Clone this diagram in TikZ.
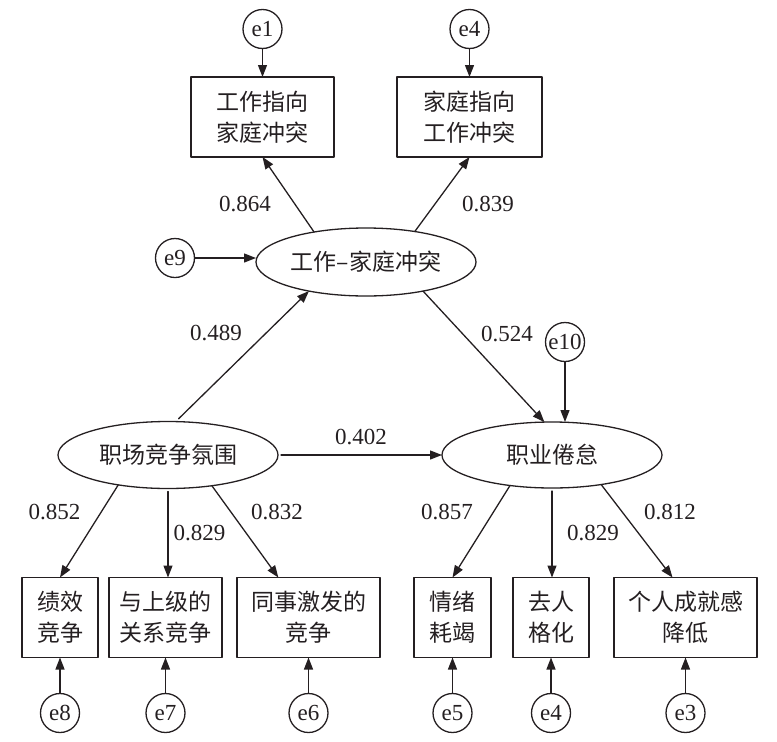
\documentclass[tikz,border=0pt]{standalone}
\usepackage{fontspec}
\setmainfont{Liberation Serif}
\newfontfamily\cjk{Noto Sans CJK SC}
\usetikzlibrary{shapes.geometric}
\usetikzlibrary{arrows.meta}
\definecolor{ink}{rgb}{0.14,0.12,0.13}
\tikzset{
  lat/.style={draw=ink,ellipse,minimum width=220pt,minimum height=68pt,inner sep=0pt,outer sep=0pt,font=\cjk\fontsize{23}{31}\selectfont},
  obs/.style={draw=ink,rectangle,align=center,minimum height=80pt,inner sep=0pt,outer sep=0pt,font=\cjk\fontsize{23}{31}\selectfont},
  err/.style={draw=ink,circle,minimum size=39pt,inner sep=0pt,outer sep=0pt,font=\fontsize{23}{27}\selectfont},
  coef/.style={text=ink,font=\fontsize{23}{27}\selectfont}
}
\begin{document}
\begin{tikzpicture}[line cap=round,line join=round,>={Triangle[length=12pt,width=9pt]},x=1pt,y=-1pt,line width=1.3pt,color=ink]

            \useasboundingbox (0,0) rectangle (777,742);
            \node[lat] (wfc) at (366,262) {工作–家庭冲突};
            \node[lat,minimum height=67pt] (cmp) at (168,455) {职场竞争氛围};
            \node[lat,minimum height=66pt] (jb) at (552,455) {职业倦怠};
            \node[obs,minimum width=143pt] (wf) at (262.5,117) {工作指向\\家庭冲突};
            \node[obs,minimum width=145pt] (fw) at (469.5,117) {家庭指向\\工作冲突};
            \node[obs,minimum width=76pt] (jx) at (60,617.5) {绩效\\竞争};
            \node[obs,minimum width=113pt] (sj) at (165.5,617.5) {与上级的\\关系竞争};
            \node[obs,minimum width=143pt] (ts) at (308.5,617.5) {同事激发的\\竞争};
            \node[obs,minimum width=77pt] (qx) at (452.5,617.5) {情绪\\耗竭};
            \node[obs,minimum width=76pt] (rg) at (551,617.5) {去人\\格化};
            \node[obs,minimum width=143pt] (gr) at (685.5,617.5) {个人成就感\\降低};
            \node[err] (e1) at (262.5,29) {e1};
            \node[err] (e4) at (469.5,29) {e4};
            \node[err] (e9) at (175,258) {e9};
            \node[err] (e10) at (565,342) {e10};
            \node[err] (e8) at (60,713) {e8};
            \node[err] (e7) at (165.5,713) {e7};
            \node[err] (e6) at (308.5,713) {e6};
            \node[err] (e5) at (452.5,713) {e5};
            \node[err] (e4b) at (551,713) {e4};
            \node[err] (e3) at (685.5,713) {e3};
            \draw [->] (e1) -- (wf);
            \draw [->] (e4) -- (fw);
            \draw [->] (e9) -- (e9 -| wfc.west);
            \draw [->] (e10) -- (e10 |- jb.north);
            \draw [->] (wfc.150) -- (wf.south);
            \draw [->] (wfc.32) -- (fw.south);
            \draw [->,shorten <=4pt] (cmp.77) -- (wfc.207);
            \draw [->] (wfc.-27) -- (jb.103);
            \draw [->,shorten <=3pt] (cmp.east) -- (jb.west);
            \draw [->] (cmp.211) -- (jx.north);
            \draw [->,shorten <=3pt] (cmp.south) -- (cmp.south |- sj.north);
            \draw [->] (cmp.-35) -- (ts.127);
            \draw [->] (jb.216) -- (qx.north);
            \draw [->,shorten <=3pt] (jb.south) -- (jb.south |- rg.north);
            \draw [->] (jb.-31) -- (gr.108);
            \draw [->] (e8) -- (jx);
            \draw [->] (e7) -- (sj);
            \draw [->] (e6) -- (ts);
            \draw [->] (e5) -- (qx);
            \draw [->] (e4b) -- (rg);
            \draw [->] (e3) -- (gr);
            \node[coef] (c864) at (245,204) {0.864};
            \node[coef] (c839) at (488,204) {0.839};
            \node[coef] (c489) at (216,333) {0.489};
            \node[coef] (c524) at (507,334) {0.524};
            \node[coef] (c402) at (361,437) {0.402};
            \node[coef] (c852) at (54.5,512) {0.852};
            \node[coef] (c829a) at (199.5,533) {0.829};
            \node[coef] (c832) at (277,512) {0.832};
            \node[coef] (c857) at (447,512) {0.857};
            \node[coef] (c829b) at (593,533) {0.829};
            \node[coef] (c812) at (670,512) {0.812};
            \end{tikzpicture}
\end{document}
